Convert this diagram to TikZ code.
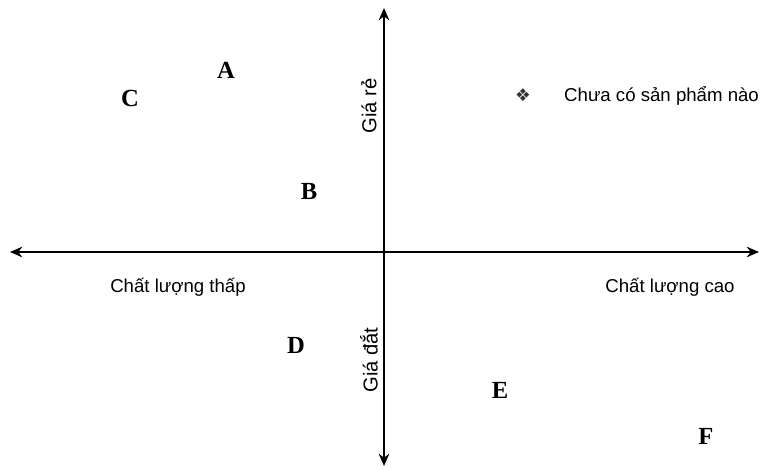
\documentclass[tikz,border=0pt]{standalone}
\usepackage{fontspec}
\setmainfont{Liberation Serif}
\setsansfont{Liberation Sans}
\newfontfamily\symfont{DejaVu Sans}
\usetikzlibrary{arrows.meta}

\begin{document}
\begin{tikzpicture}[
    x=0.02cm, y=-0.02cm,
    axis/.style={line width=1.1pt, {Stealth[length=7pt,width=6pt]}-{Stealth[length=7pt,width=6pt]}},
    brand/.style={font=\fontsize{14}{16}\selectfont\bfseries},
    label/.style={font=\sffamily\fontsize{10.6}{12}\selectfont},
    vlabel/.style={font=\sffamily\fontsize{11.5}{13}\selectfont, rotate=90}
]
\useasboundingbox (0,0) rectangle (768,470);

\coordinate (top) at (384,8);
\coordinate (bottom) at (384,466);
\coordinate (left) at (10,252);
\coordinate (right) at (759,252);

\draw[axis] (left) -- (right);
\draw[axis] (bottom) -- (top);

\node[vlabel] at (369,106) (cheap) {Giá rẻ};
\node[vlabel] at (369,360) (dear) {Giá đắt};
\node[label] at (178,287) (low) {Chất lượng thấp};
\node[label] at (670,287) (high) {Chất lượng cao};

\node[font=\symfont\fontsize{10}{12}\selectfont, text=black!80] at (523,95) (mark) {❖};
\node[label, anchor=west] at (558,96) (none) {Chưa có sản phẩm nào};

\node[brand] at (226,70) (a) {A};
\node[brand] at (130,98) (c) {C};
\node[brand] at (309,191) (b) {B};
\node[brand] at (296,345) (d) {D};
\node[brand] at (500,390) (e) {E};
\node[brand] at (706,436) (f) {F};
\end{tikzpicture}
\end{document}
